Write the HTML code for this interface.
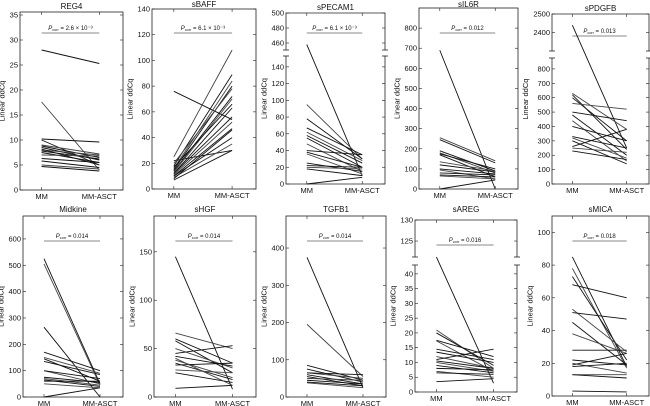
<!DOCTYPE html>
<html><head><meta charset="utf-8"><style>
html,body{margin:0;padding:0;background:#fff;}
svg{display:block;font-family:"Liberation Sans",sans-serif;}
</style></head><body>
<svg id="fig" width="650" height="406" viewBox="0 0 650 406" xmlns="http://www.w3.org/2000/svg"></svg>
<script>
// ---- data arrays (MM, MM-ASCT pairs) ----
const categories = ["MM", "MM-ASCT"];
const reg4Data = [[28,25.3],[17.6,4],[10.2,9.6],[10,5],[9,7.2],[8.8,6.5],[8.5,6],[8,7],[7.8,6.2],[7.5,5.5],[7,6.8],[6.3,5.5],[5.8,4.5],[5,4.2],[4.7,3.8],[8.2,5.0]];
const sbaffData = [[76,54],[25,108],[22,30],[18,89],[16,84],[15,80],[14,72],[13,70],[12,63],[12,56],[11,52],[10,47],[10,40],[9,35],[8,46],[7,30],[20,78],[17,66]];
const specamData = [[458,10],[95,30],[78,30],[67,35],[62,28],[58,25],[55,20],[48,15],[40,35],[38,20],[36,12],[25,15],[22,20],[20,18],[18,10],[0,8]];
const sil6rData = [[690,0],[255,140],[245,130],[190,90],[180,80],[175,100],[170,60],[135,90],[120,85],[100,75],[95,50],[80,70],[70,60],[65,50],[0,45]];
const spdgfbData = [[2440,250],[630,380],[620,240],[600,300],[560,520],[500,440],[480,200],[440,160],[400,300],[330,250],[320,180],[300,140],[260,380],[250,220],[230,170]];
const midkineData = [[525,50],[505,45],[265,0],[170,100],[150,90],[145,60],[135,85],[100,50],[100,70],[75,55],[70,45],[65,40],[60,60],[50,35],[0,35]];
const shgfData = [[145,8],[66,50],[60,35],[58,25],[50,30],[45,53],[42,32],[38,20],[35,18],[33,35],[28,25],[25,15],[9,12],[40,12]];
const tgfb1Data = [[375,25],[195,55],[85,45],[75,40],[65,50],[60,35],[55,30],[50,45],[45,35],[40,30],[38,25],[65,60]];
const sareGData = [[121,3],[21,8],[20,9],[17.5,12],[17.3,7],[14.5,11],[13.5,10],[12,8],[11,14.5],[10.5,8],[10,7],[9,6.5],[8,7.5],[7,5],[6.5,6],[3.5,4.5]];
const smicaData = [[85,18],[78,17],[73,22],[68,60],[53,27],[51,47],[45,19],[38,26],[28,28],[22,19],[20,14],[19,26],[18,20],[13,13],[13,11],[3,2.5]];
// tick labels
const reg4Ticks = [0,5,10,15,20,25,30,35];
const sbaffTicks = [0,20,40,60,80,100,120,140];
const specamTicks = [0,20,40,60,80,100,120,140,460,480,500];
const sil6rTicks = [0,100,200,300,400,500,600,700,800];
const spdgfbTicks = [0,100,200,300,400,500,600,700,800,2400,2500];
const midkineTicks = [0,100,200,300,400,500,600];
const shgfTicks = [0,50,100,150];
const tgfb1Ticks = [0,100,200,300,400];
const sareGTicks = [0,5,10,15,20,25,30,35,40,125,130];
const smicaTicks = [0,20,40,60,80,100];
const titles = ["REG4","sBAFF","sPECAM1","sIL6R","sPDGFB","Midkine","sHGF","TGFB1","sAREG","sMICA"];
const pvals = ["= 2.6 × 10⁻³","= 6.1 × 10⁻³","= 6.1 × 10⁻³","= 0.012","= 0.013","= 0.014","= 0.014","= 0.014","= 0.016","= 0.018"];

const panels = [
 {x0:20,x1:123,top:12,bottom:190,segs:[{lo:0,hi:35.6,pLo:190,pHi:12}],ticks:reg4Ticks,data:reg4Data,py:33},
 {x0:152,x1:256,top:9,bottom:189,segs:[{lo:0,hi:140,pLo:189,pHi:9}],ticks:sbaffTicks,data:sbaffData,py:33},
 {x0:286,x1:385,top:13,bottom:184,segs:[{lo:0,hi:153,pLo:184,pHi:56},{lo:450.7,hi:500,pLo:50,pHi:13}],ticks:specamTicks,data:specamData,py:33},
 {x0:419,x1:518,top:8,bottom:189,segs:[{lo:0,hi:900,pLo:189,pHi:8}],ticks:sil6rTicks,data:sil6rData,py:33},
 {x0:552,x1:649,top:14,bottom:184,segs:[{lo:0,hi:876,pLo:184,pHi:58},{lo:2302,hi:2500,pLo:51,pHi:14}],ticks:spdgfbTicks,data:spdgfbData,py:36},
 {x0:23,x1:123,top:216,bottom:397,segs:[{lo:0,hi:687,pLo:397,pHi:216}],ticks:midkineTicks,data:midkineData,py:241},
 {x0:154,x1:256,top:216,bottom:397,segs:[{lo:0,hi:187,pLo:397,pHi:216}],ticks:shgfTicks,data:shgfData,py:241},
 {x0:286,x1:386,top:216,bottom:397,segs:[{lo:0,hi:486,pLo:397,pHi:216}],ticks:tgfb1Ticks,data:tgfb1Data,py:241},
 {x0:415,x1:517,top:220,bottom:392,segs:[{lo:0,hi:43,pLo:392,pHi:265},{lo:121.2,hi:130,pLo:257,pHi:220}],ticks:sareGTicks,data:sareGData,py:245},
 {x0:552,x1:649,top:216,bottom:396,segs:[{lo:0,hi:110,pLo:396,pHi:216}],ticks:smicaTicks,data:smicaData,py:241}
];
const NS="http://www.w3.org/2000/svg";
const svg=document.getElementById('fig');
function mk(tag,attrs,parent){const e=document.createElementNS(NS,tag);for(const k in attrs)e.setAttribute(k,attrs[k]);(parent||svg).appendChild(e);return e;}
function yScale(p,v){
  for(const s of p.segs){ if(v>=s.lo-1e-9 && v<=s.hi+1e-9) return s.pLo+(v-s.lo)/(s.hi-s.lo)*(s.pHi-s.pLo); }
  const a=p.segs[0],b=p.segs[1];
  if(b && v>a.hi && v<b.lo) return a.pHi+(v-a.hi)/(b.lo-a.hi)*(b.pLo-a.pHi);
  return p.segs[0].pLo;
}
function xScale(p,i){const w=p.x1-p.x0;return p.x0+w*(i===0?0.21:0.77);}

panels.forEach((p,pi)=>{
  const g=mk('g',{});
  
  
  const st={stroke:'#222','stroke-width':0.8,fill:'none'};
  if(p.segs.length===1){
    const r=mk('rect',Object.assign({x:p.x0,y:p.top,width:p.x1-p.x0,height:p.bottom-p.top},st),g);
    
    
  } else {
    const lo=p.segs[0],up=p.segs[1];
    mk('polyline',Object.assign({points:`${p.x0},${up.pLo} ${p.x0},${p.top} ${p.x1},${p.top} ${p.x1},${up.pLo}`},st),g);
    mk('polyline',Object.assign({points:`${p.x0},${lo.pHi} ${p.x0},${p.bottom} ${p.x1},${p.bottom} ${p.x1},${lo.pHi}`},st),g);
    [up.pLo,lo.pHi].forEach(yy=>{
      mk('line',Object.assign({x1:p.x0-3,x2:p.x0+3,y1:yy,y2:yy},st),g);
      mk('line',Object.assign({x1:p.x1-3,x2:p.x1+3,y1:yy,y2:yy},st),g);
    });
  }
  const t=mk('text',{x:(p.x0+p.x1)/2,y:pi<5?Math.max(7,p.top-3):212,'text-anchor':'middle','font-size':8,fill:'#111'},g);
  t.textContent=titles[pi];
  
  
  // y label placed left of widest tick label
  const maxLen=Math.max(...p.ticks.map(v=>String(v).length));
  const lx=p.x0-2-maxLen*4.2-5;
  const cy=(p.top+p.bottom)/2;
  const yl=mk('text',{x:lx,y:cy,transform:`rotate(-90 ${lx} ${cy})`,'text-anchor':'middle','font-size':7.5,fill:'#111'},g);
  yl.textContent='Linear ddCq';
  
  
  p.ticks.forEach(v=>{
    const y=yScale(p,v);
    mk('line',{x1:p.x0,x2:p.x0+3,y1:y,y2:y,stroke:'#222','stroke-width':0.6},g);
    mk('line',{x1:p.x1,x2:p.x1-3,y1:y,y2:y,stroke:'#222','stroke-width':0.6},g);
    const tl=mk('text',{x:p.x0-2,y:y+2.5,'text-anchor':'end','font-size':7.5,fill:'#111'},g);
    tl.textContent=v;
    
    
  });
  categories.forEach((c,i)=>{
    const x=xScale(p,i);
    mk('line',{x1:x,x2:x,y1:p.bottom,y2:p.bottom-3,stroke:'#222','stroke-width':0.6},g);
    mk('line',{x1:x,x2:x,y1:p.top,y2:p.top+3,stroke:'#222','stroke-width':0.6},g);
    const xl=mk('text',{x:x,y:p.bottom+9,'text-anchor':'middle','font-size':7.5,fill:'#111'},g);
    xl.textContent=c;
    
    
  });
  const xa=xScale(p,0),xb=xScale(p,1);
  const pl=mk('line',{x1:xa,x2:xb,y1:p.py,y2:p.py,stroke:'#888','stroke-width':1},g);
  
  
  const pt=mk('text',{x:(xa+xb)/2,y:p.py-3,'text-anchor':'middle','font-size':6,fill:'#111'},g);
  
  
  const s1=mk('tspan',{'font-style':'italic'},pt);s1.textContent='P';
  const s2=mk('tspan',{'font-size':3.8,dy:1},pt);s2.textContent='corr';
  const s3=mk('tspan',{dy:-1},pt);s3.textContent=' '+pvals[pi];
  p.data.forEach((d,k)=>{
    const ln=mk('line',{x1:xScale(p,0),y1:yScale(p,d[0]),x2:xScale(p,1),y2:yScale(p,d[1]),stroke:k%3===1?'#444':'#111','stroke-width':0.9},g);
    
    
  });
});
</script>
</body></html>
